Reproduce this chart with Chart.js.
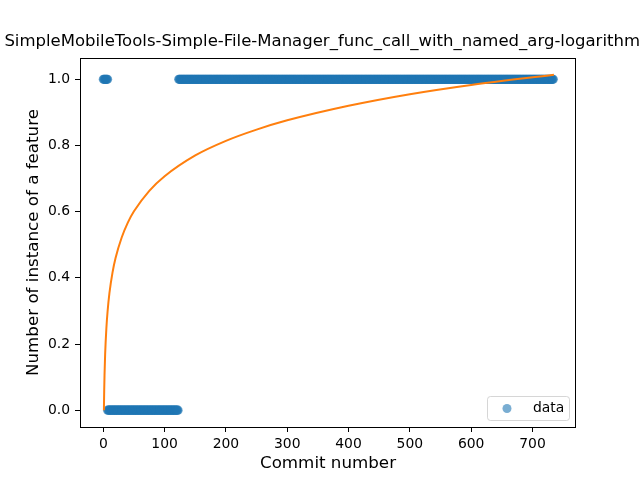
<!DOCTYPE html>
<html>
<head>
<meta charset="utf-8">
<script src="https://cdn.jsdelivr.net/npm/chart.js@4/dist/chart.umd.min.js"></script>
<style>
  html, body { margin: 0; padding: 0; background: #fff; }
  #wrap { width: 640px; height: 480px; }
</style>
</head>
<body>
<div id="wrap"><canvas id="c" width="640" height="480"></canvas></div>
<script>
// ---- data ----
const chartTitle = "SimpleMobileTools-Simple-File-Manager_func_call_with_named_arg-logarithmic";
const xLabel = "Commit number";
const yLabel = "Number of instance of a feature";
const legendLabel = "data";

// observed data: runs of consecutive commits sharing the same value
const runStart = [0, 7, 123];
const runEnd   = [7, 122, 734];
const runValue = [1, 0, 1];

// fitted curve, points
const fitX = [1, 1.2, 1.5, 2, 3, 5, 7, 10, 15, 20, 30, 40, 50, 75, 100, 150, 200, 250, 300, 400, 500, 600, 735];
const fitY = [0, 0.028, 0.062, 0.106, 0.169, 0.247, 0.299, 0.354, 0.416, 0.460, 0.522, 0.567, 0.601, 0.663, 0.707, 0.770, 0.814, 0.848, 0.876, 0.920, 0.955, 0.983, 1.014];

const xTicks = [0, 100, 200, 300, 400, 500, 600, 700];
const yTicks = [0.0, 0.2, 0.4, 0.6, 0.8, 1.0];
const xRange = [-38, 771];
const yRange = [-0.0507, 1.0643];

// ---- build datasets ----
const scatterPts = [];
for (let r = 0; r < runStart.length; r++) {
  for (let x = runStart[r]; x <= runEnd[r]; x++) scatterPts.push({ x: x, y: runValue[r] });
}
const fitPts = fitX.map((x, i) => ({ x: x, y: fitY[i] }));

const FONT = "'DejaVu Sans', sans-serif";
const blueA = 'rgba(31,119,180,0.6)';

const overlay = {
  id: 'overlay',
  afterDraw(chart) {
    const ctx = chart.ctx, a = chart.chartArea;
    ctx.save();
    // frame
    ctx.strokeStyle = '#000';
    ctx.lineWidth = 1;
    ctx.strokeRect(Math.round(a.left) + 0.5, Math.round(a.top) + 0.5,
                   Math.round(a.right - a.left) - 1, Math.round(a.bottom - a.top));
    // title
    ctx.fillStyle = '#000';
    ctx.font = '16.5px ' + FONT;
    ctx.textAlign = 'center';
    ctx.textBaseline = 'alphabetic';
    ctx.fillText(chartTitle, (a.left + a.right) / 2 + 1, 46);
    // legend
    const bx = 487.5, by = 396.5, bw = 82, bh = 24, r = 3;
    ctx.beginPath();
    ctx.moveTo(bx + r, by);
    ctx.lineTo(bx + bw - r, by);
    ctx.quadraticCurveTo(bx + bw, by, bx + bw, by + r);
    ctx.lineTo(bx + bw, by + bh - r);
    ctx.quadraticCurveTo(bx + bw, by + bh, bx + bw - r, by + bh);
    ctx.lineTo(bx + r, by + bh);
    ctx.quadraticCurveTo(bx, by + bh, bx, by + bh - r);
    ctx.lineTo(bx, by + r);
    ctx.quadraticCurveTo(bx, by, bx + r, by);
    ctx.closePath();
    ctx.fillStyle = 'rgba(255,255,255,0.8)';
    ctx.fill();
    ctx.strokeStyle = 'rgba(204,204,204,0.8)';
    ctx.stroke();
    ctx.beginPath();
    ctx.arc(507, 408.5, 4.5, 0, Math.PI * 2);
    ctx.fillStyle = blueA;
    ctx.fill();
    ctx.fillStyle = '#000';
    ctx.font = '13.9px ' + FONT;
    ctx.textAlign = 'left';
    ctx.textBaseline = 'middle';
    ctx.fillText(legendLabel, 533, 408.5);
    ctx.restore();
  }
};

new Chart(document.getElementById('c'), {
  type: 'scatter',
  data: {
    datasets: [
      {
        label: 'fit',
        data: fitPts,
        showLine: true,
        borderColor: '#ff7f0e',
        borderWidth: 2,
        pointRadius: 0,
        cubicInterpolationMode: 'monotone',
        fill: false,
        order: 0
      },
      {
        label: legendLabel,
        data: scatterPts,
        backgroundColor: blueA,
        borderColor: blueA,
        borderWidth: 0,
        pointRadius: 4.6,
        order: 1
      }
    ]
  },
  plugins: [overlay],
  options: {
    responsive: false,
    animation: false,
    devicePixelRatio: 1,
    layout: { padding: { top: 58, right: 64, left: 0, bottom: 0 } },
    plugins: {
      legend: { display: false },
      title: { display: false },
      tooltip: { enabled: false }
    },
    scales: {
      x: {
        type: 'linear',
        min: xRange[0], max: xRange[1],
        afterBuildTicks: s => { s.ticks = xTicks.map(v => ({ value: v })); },
        afterFit: s => { s.height = 53; },
        grid: { drawOnChartArea: false, drawTicks: true, tickLength: 5, tickColor: '#000', tickWidth: 1 },
        border: { display: false },
        ticks: { color: '#000', font: { family: FONT, size: 13.9 }, padding: 4, maxRotation: 0,
                 callback: v => String(v) },
        title: { display: true, text: xLabel, color: '#000', font: { family: FONT, size: 16.7, lineHeight: 1.2 },
                 padding: { top: 0, bottom: 6 } }
      },
      y: {
        type: 'linear',
        min: yRange[0], max: yRange[1],
        afterBuildTicks: s => { s.ticks = yTicks.map(v => ({ value: v })); },
        afterFit: s => { s.width = 80; },
        grid: { drawOnChartArea: false, drawTicks: true, tickLength: 5, tickColor: '#000', tickWidth: 1 },
        border: { display: false },
        ticks: { color: '#000', font: { family: FONT, size: 13.9 }, padding: 5,
                 callback: v => Number(v).toFixed(1) },
        title: { display: true, text: yLabel, color: '#000', font: { family: FONT, size: 16.7, lineHeight: 1.2 },
                 padding: { top: 24, bottom: 0 } }
      }
    }
  }
});
</script>
</body>
</html>
